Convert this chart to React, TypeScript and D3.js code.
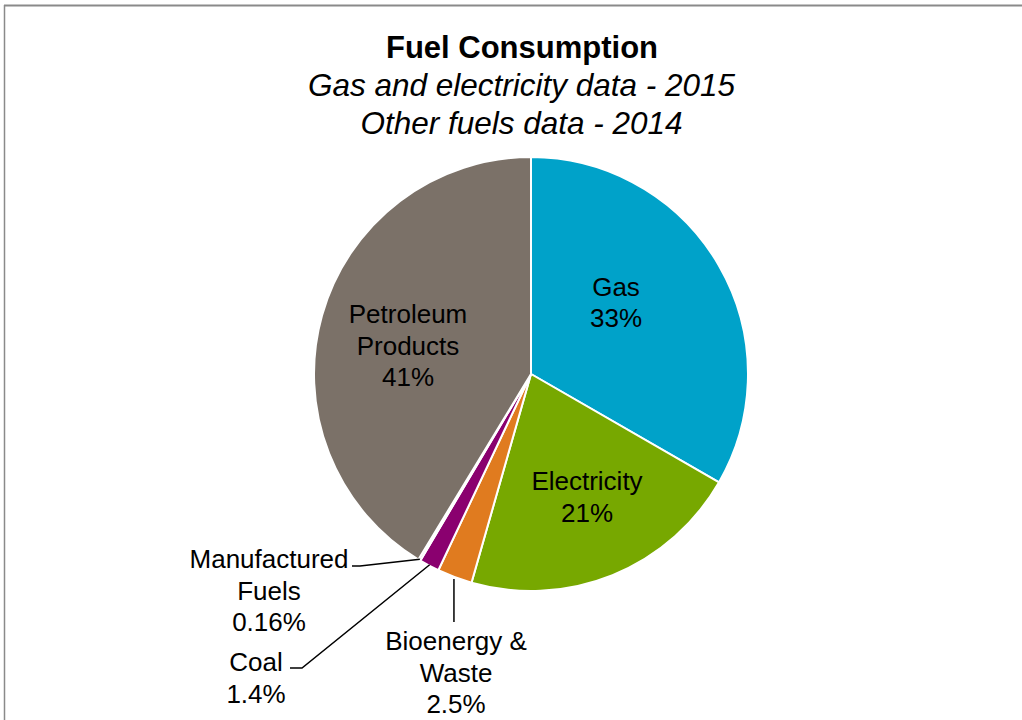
import React from "react";
import * as d3 from "d3";

const categories = ["Gas", "Electricity", "Bioenergy & Waste", "Coal", "Manufactured Fuels", "Petroleum Products"];
const values = [33.3, 21.1, 2.6, 1.5, 0.16, 41.3];
const pctLabels = ["33%", "21%", "2.5%", "1.4%", "0.16%", "41%"];
const colors = ["#00A2C9", "#77A800", "#E07B1F", "#8A006F", "#4E4E4E", "#7B7168"];

const W = 1022, H = 720;
const cx = 531, cy = 374, R = 217;

type Lbl = { lines: string[]; x: number; y: number; leader?: [number, number][] };

export default function App() {
  const pie = d3.pie<number>().sort(null).value((d) => d)(values);
  const arc = d3.arc<d3.PieArcDatum<number>>().innerRadius(0).outerRadius(R);
  const pt = (a: number, r: number): [number, number] => [Math.sin(a) * r, -Math.cos(a) * r];
  const mid = (i: number) => (pie[i].startAngle + pie[i].endAngle) / 2;

  const labels: Lbl[] = [
    { lines: ["Gas", pctLabels[0]], x: 616 - cx, y: 295.5 - cy },
    { lines: ["Electricity", pctLabels[1]], x: 587 - cx, y: 490 - cy },
    {
      lines: ["Bioenergy &", "Waste", pctLabels[2]], x: 456 - cx, y: 650 - cy,
      leader: [pt(mid(2), R + 2), [pt(mid(2), R + 2)[0], 622 - cy]],
    },
    {
      lines: ["Coal", pctLabels[3]], x: 256 - cx, y: 671 - cy,
      leader: [pt(mid(3), R - 1), [302 - cx, 668 - cy], [290 - cx, 668 - cy]],
    },
    {
      lines: ["Manufactured", "Fuels", pctLabels[4]], x: 269 - cx, y: 568 - cy,
      leader: [pt(mid(4), R - 1), [360 - cx, 566 - cy], [352 - cx, 566 - cy]],
    },
    { lines: ["Petroleum", "Products", pctLabels[5]], x: 408 - cx, y: 323 - cy },
  ];

  return (
    <svg width={W} height={H} style={{ position: "absolute", left: 0, top: 0 }} fontFamily="'Liberation Sans', Arial, sans-serif">
      <rect x={0} y={0} width={W} height={H} fill="#fff" />
      <line x1={4} y1={5.5} x2={W} y2={5.5} stroke="#8a8a8a" strokeWidth={2} />
      <line x1={4.5} y1={5} x2={4.5} y2={H} stroke="#8a8a8a" strokeWidth={1.5} />
      <text x={522} y={58} textAnchor="middle" fontSize={31} fontWeight="bold" fill="#000">Fuel Consumption</text>
      <text x={521.5} y={96} textAnchor="middle" fontSize={31.5} fontStyle="italic" fill="#000">Gas and electricity data - 2015</text>
      <text x={521.5} y={134} textAnchor="middle" fontSize={31.5} fontStyle="italic" fill="#000">Other fuels data - 2014</text>
      <g transform={`translate(${cx},${cy})`}>
        {pie.map((p, i) => (
          <path key={categories[i]} d={arc(p) || ""} fill={colors[i]} stroke="#fff" strokeWidth={2} strokeLinejoin="round" />
        ))}
        {labels.map((l, i) =>
          l.leader ? (
            <polyline key={"l" + i} points={l.leader.map((q) => q.join(",")).join(" ")} fill="none" stroke="#000" strokeWidth={1.5} />
          ) : null
        )}
        {labels.map((l, i) => (
          <text key={"t" + i} textAnchor="middle" fontSize={26} fill="#000">
            {l.lines.map((s, j) => (
              <tspan key={j} x={l.x} y={l.y + j * 31.5}>{s}</tspan>
            ))}
          </text>
        ))}
      </g>
    </svg>
  );
}
